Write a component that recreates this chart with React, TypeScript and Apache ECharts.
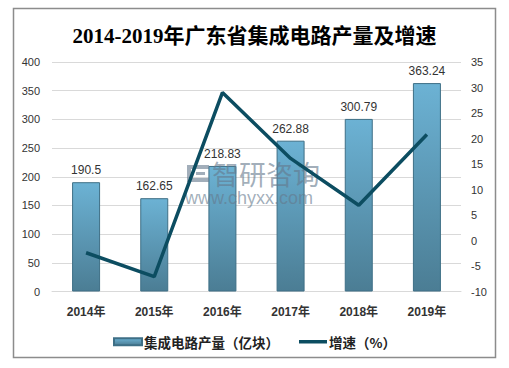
import React, { useEffect, useRef } from "react";
import * as echarts from "echarts";

const categories = ["2014年", "2015年", "2016年", "2017年", "2018年", "2019年"];
const outputValues = [190.5, 162.65, 218.83, 262.88, 300.79, 363.24];
const growthValues = [-2.4, -7.1, 29.0, 16.1, 6.9, 20.8];
const titleText = "2014-2019年广东省集成电路产量及增速";
const barName = "集成电路产量（亿块）";
const lineName = "增速（%）";

const wmColor = "rgba(100,120,140,0.6)";

export default function App() {
  const ref = useRef<HTMLDivElement>(null);
  useEffect(() => {
    document.body.style.margin = "0";
    const chart = echarts.init(ref.current!, undefined, { renderer: "svg" });
    chart.setOption({
      animation: false,
      backgroundColor: "#fff",
      title: {
        text: titleText,
        left: "center",
        top: 20,
        textStyle: {
          fontFamily: "'Liberation Serif', 'Noto Sans CJK SC', serif",
          fontSize: 21,
          fontWeight: "bold",
          color: "#000",
        },
      },
      grid: { left: 52, right: 48, top: 62, bottom: 76.5 },
      legend: {
        left: "center",
        top: 330,
        itemWidth: 28,
        itemHeight: 7,
        itemGap: 20,
        textStyle: {
          fontFamily: "'Noto Sans CJK SC', sans-serif",
          fontSize: 13.5,
          fontWeight: "bold",
          color: "#222",
          padding: [0, 0, 0, -3],
        },
        data: [
          { name: barName, icon: "rect" },
          {
            name: lineName,
            icon: "path://M0,0H28V3.5H0Z",
            itemStyle: { color: "#0c4d61" },
          },
        ],
      },
      xAxis: {
        type: "category",
        data: categories,
        axisLine: { lineStyle: { color: "#d9d9d9" } },
        axisTick: { show: false },
        axisLabel: {
          margin: 14,
          fontFamily: "'Liberation Sans', 'Noto Sans CJK SC', sans-serif",
          fontSize: 12,
          fontWeight: "bold",
          color: "#333",
        },
      },
      yAxis: [
        {
          type: "value",
          min: 0,
          max: 400,
          interval: 50,
          axisLine: { show: false },
          axisTick: { show: false },
          splitLine: { lineStyle: { color: "#d9d9d9" } },
          axisLabel: {
            margin: 12,
            fontFamily: "'Liberation Sans', sans-serif",
            fontSize: 11,
            color: "#333",
          },
        },
        {
          type: "value",
          min: -10,
          max: 35,
          interval: 5,
          axisLine: { show: false },
          axisTick: { show: false },
          splitLine: { show: false },
          axisLabel: {
            margin: 10,
            fontFamily: "'Liberation Sans', sans-serif",
            fontSize: 11,
            color: "#333",
          },
        },
      ],
      series: [
        {
          name: barName,
          type: "bar",
          data: outputValues,
          barWidth: 28,
          itemStyle: {
            color: new echarts.graphic.LinearGradient(0, 0, 0, 1, [
              { offset: 0, color: "#6cb2d4" },
              { offset: 1, color: "#4b7d94" },
            ]),
            borderColor: "#3e6f86",
            borderWidth: 1,
          },
          label: {
            show: true,
            position: "top",
            distance: 6,
            fontFamily: "'Liberation Sans', sans-serif",
            fontSize: 12,
            color: "#333",
          },
          z: 2,
        },
        {
          name: lineName,
          type: "line",
          yAxisIndex: 1,
          data: growthValues,
          symbol: "none",
          lineStyle: { color: "#0c4d61", width: 3.5 },
          itemStyle: { color: "#0c4d61" },
          z: 4,
        },
      ],
      graphic: [
        { type: "rect", z: 3, shape: { x: 187, y: 165, width: 22, height: 4 }, style: { fill: wmColor } },
        { type: "rect", z: 3, shape: { x: 187, y: 169, width: 4, height: 13 }, style: { fill: wmColor } },
        { type: "rect", z: 3, shape: { x: 191, y: 178, width: 18, height: 4 }, style: { fill: wmColor } },
        { type: "rect", z: 3, shape: { x: 196, y: 172, width: 9, height: 3 }, style: { fill: wmColor } },
        {
          type: "text",
          z: 3,
          x: 212,
          y: 160,
          style: {
            text: "智研咨询",
            fontFamily: "'Noto Sans CJK SC', sans-serif",
            fontSize: 27,
            fill: wmColor,
          },
        },
        {
          type: "text",
          z: 3,
          x: 185,
          y: 189,
          style: {
            text: "www.chyxx.com",
            fontFamily: "'Liberation Sans', sans-serif",
            fontSize: 18,
            fill: wmColor,
          },
        },
        {
          type: "rect",
          z: 10,
          shape: { x: 13.5, y: 8.5, width: 482, height: 349 },
          style: { fill: "none", stroke: "#8c8c8c", lineWidth: 1.5 },
        },
      ],
    });
    return () => chart.dispose();
  }, []);
  return <div ref={ref} style={{ width: 509, height: 368 }} />;
}
